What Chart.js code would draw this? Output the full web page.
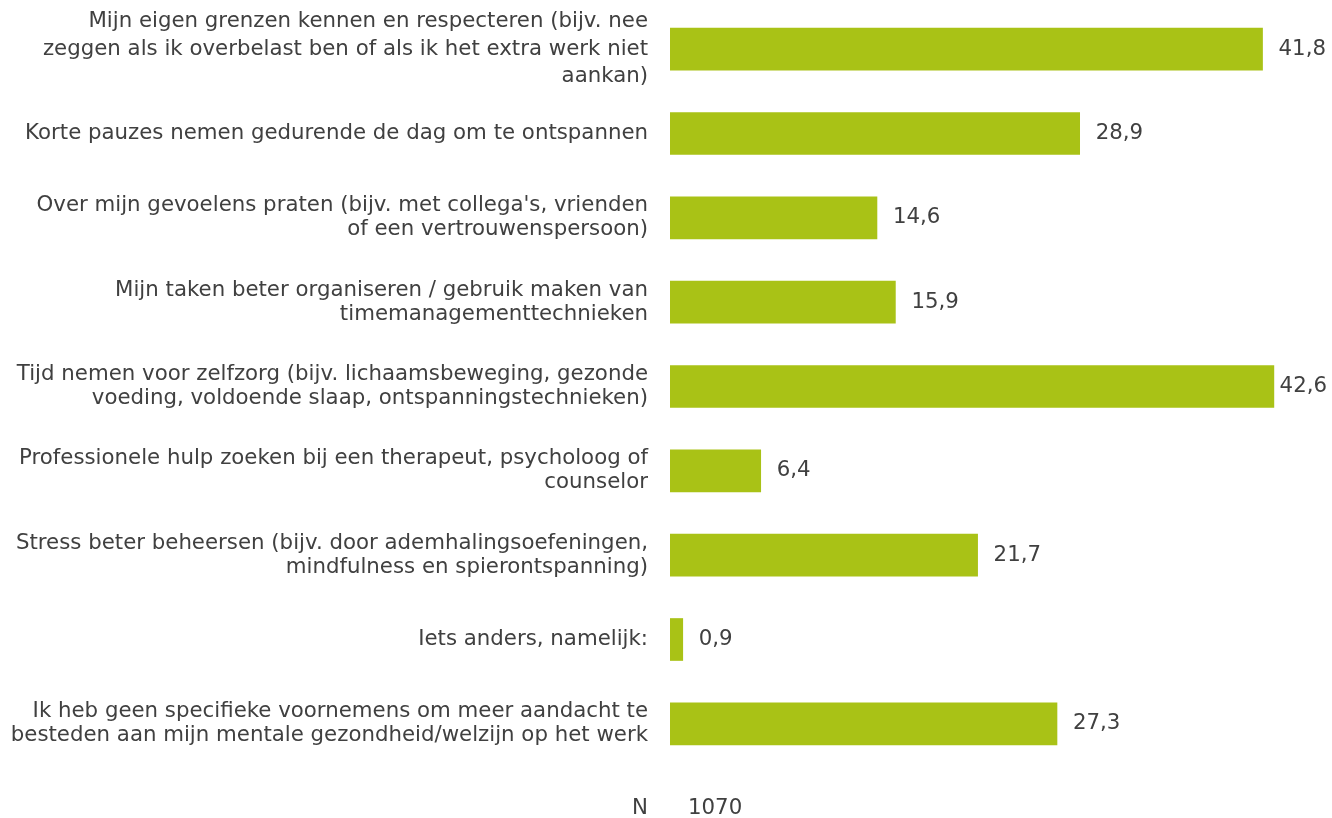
<!DOCTYPE html>
<html>
<head>
<meta charset="utf-8">
<script src="https://cdn.jsdelivr.net/npm/chart.js@4/dist/chart.umd.min.js"></script>
<style>
  html, body { margin: 0; padding: 0; background: #fff; }
  #wrap { width: 1332px; height: 818px; }
</style>
</head>
<body>
<div id="wrap"><canvas id="chart"></canvas></div>
<script>
const categories = [
  ['Mijn eigen grenzen kennen en respecteren (bijv. nee', 'zeggen als ik overbelast ben of als ik het extra werk niet', 'aankan)'],
  'Korte pauzes nemen gedurende de dag om te ontspannen',
  ['Over mijn gevoelens praten (bijv. met collega\'s, vrienden', 'of een vertrouwenspersoon)'],
  ['Mijn taken beter organiseren / gebruik maken van', 'timemanagementtechnieken'],
  ['Tijd nemen voor zelfzorg (bijv. lichaamsbeweging, gezonde', 'voeding, voldoende slaap, ontspanningstechnieken)'],
  ['Professionele hulp zoeken bij een therapeut, psycholoog of', 'counselor'],
  ['Stress beter beheersen (bijv. door ademhalingsoefeningen,', 'mindfulness en spierontspanning)'],
  'Iets anders, namelijk:',
  ['Ik heb geen specifieke voornemens om meer aandacht te', 'besteden aan mijn mentale gezondheid/welzijn op het werk']
];
const values = [41.8, 28.9, 14.6, 15.9, 42.6, 6.4, 21.7, 0.9, 27.3];
const nLabel = 'N';
const nValue = 1070;

const FONT = '"DejaVu Sans", Verdana, sans-serif';
const SIZE = 21.3;
const TEXT = '#404040';
const BAR = '#a9c216';

const fmt = v => v.toFixed(1).replace('.', ',');

const valueLabels = {
  id: 'valueLabels',
  afterDatasetsDraw(chart) {
    const ctx = chart.ctx;
    const meta = chart.getDatasetMeta(0);
    ctx.save();
    ctx.font = SIZE + 'px ' + FONT;
    ctx.fillStyle = TEXT;
    ctx.textBaseline = 'middle';
    ctx.textAlign = 'left';
    meta.data.forEach((bar, i) => {
      const txt = fmt(values[i]);
      const w = ctx.measureText(txt).width;
      const x = Math.min(bar.x + 16, chart.width - w - 5);
      ctx.fillText(txt, x, bar.y);
    });
    // N row below the last category
    const y = chart.scales.y;
    const step = meta.data[1].y - meta.data[0].y;
    const ny = meta.data[meta.data.length - 1].y + step;
    ctx.fillText(String(nValue), chart.chartArea.left + 18, ny);
    ctx.textAlign = 'right';
    ctx.fillText(nLabel, y.right - 22, ny);
    ctx.restore();
  }
};

new Chart(document.getElementById('chart'), {
  type: 'bar',
  data: {
    labels: categories,
    datasets: [{
      data: values,
      backgroundColor: BAR,
      borderWidth: 0,
      barThickness: 42
    }]
  },
  options: {
    indexAxis: 'y',
    responsive: true,
    maintainAspectRatio: false,
    animation: false,
    layout: { padding: { top: 7, bottom: 52, left: 0, right: 0 } },
    plugins: {
      legend: { display: false },
      tooltip: { enabled: false }
    },
    scales: {
      x: {
        display: false,
        min: 0,
        max: 46.7
      },
      y: {
        afterFit(scale) {
          scale.width = 670;
          scale.paddingTop = 0;
          scale.paddingBottom = 0;
        },
        border: { display: false },
        grid: { display: false, drawTicks: false },
        ticks: {
          autoSkip: false,
          padding: 22,
          color: TEXT,
          font: c => ({
            family: FONT,
            size: SIZE,
            lineHeight: c.index === 0 ? 1.28 : 1.13
          })
        }
      }
    }
  },
  plugins: [valueLabels]
});
</script>
</body>
</html>
